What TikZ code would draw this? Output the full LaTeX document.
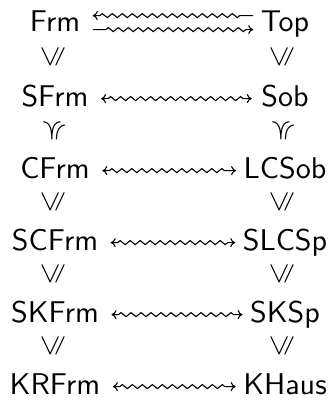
\documentclass[tikz,border=0pt]{standalone}
\usepackage{amssymb}
\usetikzlibrary{decorations.pathmorphing,arrows.meta}
\begin{document}
\begin{tikzpicture}[x=1pt,y=1pt,
  obj/.style={scale=3.0, font=\sffamily, inner sep=0pt, text height=7pt, text depth=2pt},
  rel/.style={scale=3.0, rotate=90, inner sep=0pt},
  sqbase/.style={line width=1.1pt, decorate},
  both/.style={arrows={Computer Modern Rightarrow[length=5pt,width=9pt]-Computer Modern Rightarrow[length=5pt,width=9pt]}},
  lefthead/.style={arrows={Computer Modern Rightarrow[length=5pt,width=9pt]-}},
  righthead/.style={arrows={-Computer Modern Rightarrow[length=5pt,width=9pt]}},
  squig/.style={sqbase, both, decoration={zigzag, segment length=10pt, amplitude=2pt, pre length=7pt, post length=7pt}},
  squigtail/.style={sqbase, lefthead, decoration={zigzag, segment length=10pt, amplitude=2pt, pre length=7pt, post length=13pt}},
  squigtailL/.style={sqbase, righthead, decoration={zigzag, segment length=10pt, amplitude=2pt, pre length=13pt, post length=7pt}},
]
\useasboundingbox (0,0) rectangle (330,-405);
% left column
\node[obj] (frm)   at (55,-23.6)  {Frm};
\node[obj] (sfrm)  at (55,-98.6)  {SFrm};
\node[obj] (cfrm)  at (55,-170.6) {CFrm};
\node[obj] (scfrm) at (55,-242.6) {SCFrm};
\node[obj] (skfrm) at (55,-314.6) {SKFrm};
\node[obj] (krfrm) at (55,-386.6) {KRFrm};
% right column
\node[obj] (top)   at (285,-23.6)  {Top};
\node[obj] (sob)   at (285,-98.6)  {Sob};
\node[obj] (lcsob) at (285,-170.6) {LCSob};
\node[obj] (slcsp) at (285,-242.6) {SLCSp};
\node[obj] (sksp)  at (285,-314.6) {SKSp};
\node[obj] (khaus) at (285,-386.6) {KHaus};
% relations
\node[rel] (l1) at (53,-57)  {$\leqslant$};
\node[rel] (l2) at (53,-131) {$\preccurlyeq$};
\node[rel] (l3) at (53,-202) {$\leqslant$};
\node[rel] (l4) at (53,-274) {$\leqslant$};
\node[rel] (l5) at (53,-346) {$\leqslant$};
\node[rel] (r1) at (282,-57)  {$\leqslant$};
\node[rel] (r2) at (282,-131) {$\preccurlyeq$};
\node[rel] (r3) at (282,-202) {$\leqslant$};
\node[rel] (r4) at (282,-274) {$\leqslant$};
\node[rel] (r5) at (282,-346) {$\leqslant$};
% arrows
\draw[squigtail]  ([shift={(12pt,8pt)}]frm.east) -- ([shift={(-7pt,8pt)}]frm.east -| top.west);
\draw[squigtailL] ([shift={(12pt,-6pt)}]frm.east) -- ([shift={(-7pt,-6pt)}]frm.east -| top.west);
\draw[squig] ([xshift=12pt]sfrm.east)  -- ([xshift=-9pt]sfrm.east -| sob.west);
\draw[squig] ([xshift=12pt]cfrm.east)  -- ([xshift=-7pt]cfrm.east -| lcsob.west);
\draw[squig] ([xshift=12pt]scfrm.east) -- ([xshift=-7pt]scfrm.east -| slcsp.west);
\draw[squig] ([xshift=12pt]skfrm.east) -- ([xshift=-7pt]skfrm.east -| sksp.west);
\draw[squig] ([xshift=12pt]krfrm.east) -- ([xshift=-7pt]krfrm.east -| khaus.west);
\end{tikzpicture}
\end{document}
